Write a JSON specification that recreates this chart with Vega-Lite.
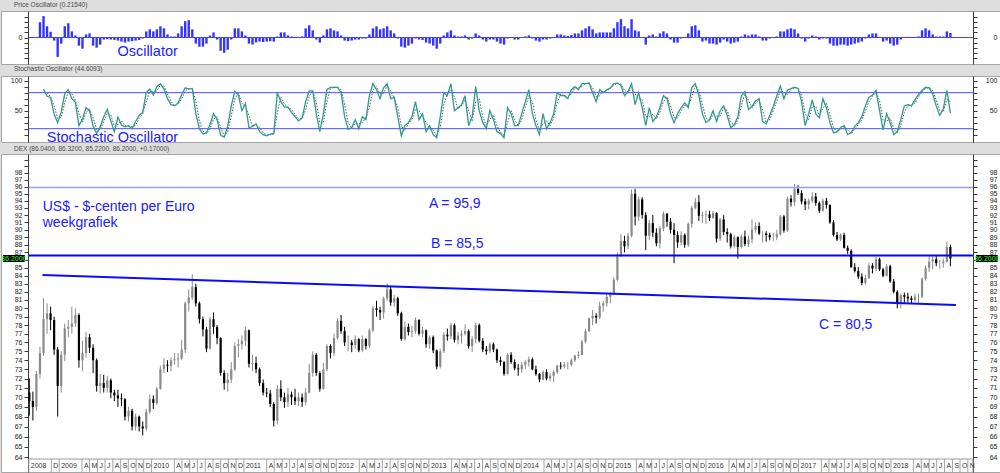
{
"$schema":"https://vega.github.io/schema/vega-lite/v6.json",
"background":"#dedede",
"padding":{"top":1,"bottom":0,"left":0,"right":0},
"spacing":12,
"bounds":"flush",
"config":{
 "view":{"fill":"#ffffff","stroke":"#a6a6a6"},
 "scale":{"continuousPadding":0},
 "axis":{"grid":false,"tickSize":4,"tickColor":"#3c3c3c","domainColor":"#3c3c3c","labelFont":"Liberation Sans","labelFontSize":7,"labelColor":"#222222","labelOverlap":false,"labelFlush":false,"labelPadding":2,"labelBound":false},
 "title":{"anchor":"start","dx":13,"fontSize":6.5,"font":"Liberation Sans","fontWeight":"normal","color":"#4a4a4a","baseline":"alphabetic","frame":"group"}
},
"datasets":{
"w":[
{"t":"2008-09-05","o":70.5,"h":72,"l":68.1,"c":69.6},
{"t":"2008-09-19","o":69.6,"h":70.6,"l":67.6,"c":69},
{"t":"2008-10-03","o":69,"h":72.8,"l":68.6,"c":72.5},
{"t":"2008-10-17","o":72.5,"h":75.5,"l":72,"c":74.8,"p":0.75},
{"t":"2008-10-31","o":74.8,"h":81.2,"l":74.5,"c":78.7,"p":1.05,"k":86},
{"t":"2008-11-14","o":78.7,"h":80.6,"l":77,"c":79.4,"p":0.55,"k":74,"d":80},
{"t":"2008-11-28","o":79.4,"h":80.2,"l":77.4,"c":78.6,"p":0.28,"k":72,"d":73},
{"t":"2008-12-12","o":78.6,"h":79,"l":74.6,"c":75.2,"p":-0.15,"k":44,"d":58},
{"t":"2008-12-26","o":75.2,"h":75.5,"l":68,"c":71.2,"p":-0.95,"k":30,"d":37},
{"t":"2009-01-09","o":71.2,"h":75,"l":70.5,"c":74.6,"p":-0.3,"k":48,"d":39},
{"t":"2009-01-23","o":74.6,"h":78.2,"l":73.9,"c":77.6,"p":0.55,"k":78,"d":63},
{"t":"2009-02-06","o":77.6,"h":78.6,"l":76.6,"c":77.8,"p":0.7,"k":85,"d":82},
{"t":"2009-02-20","o":77.8,"h":80.2,"l":77,"c":78.2,"p":0.3,"k":70,"d":78},
{"t":"2009-03-06","o":78.2,"h":80,"l":77.8,"c":79.2,"p":0.1,"k":64,"d":67},
{"t":"2009-03-20","o":79.2,"h":79.4,"l":73.2,"c":74,"p":-0.4,"k":25,"d":45},
{"t":"2009-04-03","o":74,"h":76.2,"l":72.8,"c":74.8,"p":-0.55,"k":36,"d":31},
{"t":"2009-04-17","o":74.8,"h":77.2,"l":74.3,"c":76.6,"p":0.15,"k":55,"d":46},
{"t":"2009-05-01","o":76.6,"h":77,"l":74.8,"c":75.4,"p":0.2,"k":50,"d":53},
{"t":"2009-05-15","o":75.4,"h":75.8,"l":72.6,"c":74,"p":-0.4,"k":25,"d":38},
{"t":"2009-05-29","o":74,"h":74.2,"l":70.6,"c":71.2,"p":-0.5,"k":12,"d":19},
{"t":"2009-06-12","o":71.2,"h":72.5,"l":70.4,"c":71.5,"p":-0.35,"k":23,"d":18},
{"t":"2009-06-26","o":71.5,"h":72.4,"l":70.5,"c":71,"p":-0.1,"k":40,"d":32},
{"t":"2009-07-10","o":71,"h":72.3,"l":70.5,"c":71.8,"p":-0.08,"k":52,"d":46},
{"t":"2009-07-24","o":71.8,"h":72,"l":69.9,"c":70.5,"p":-0.1,"k":33,"d":43},
{"t":"2009-08-07","o":70.5,"h":70.8,"l":69.6,"c":70.2,"p":-0.12,"k":15,"d":24},
{"t":"2009-08-21","o":70.2,"h":70.8,"l":69,"c":69.9,"p":-0.15,"k":39,"d":27},
{"t":"2009-09-04","o":69.9,"h":70.4,"l":69.1,"c":69.8,"p":-0.2,"k":26,"d":33},
{"t":"2009-09-18","o":69.8,"h":69.9,"l":67.6,"c":68,"p":-0.25,"k":23,"d":25},
{"t":"2009-10-02","o":68,"h":69,"l":67.5,"c":68.6,"p":-0.2,"k":25,"d":24},
{"t":"2009-10-16","o":68.6,"h":68.8,"l":66.6,"c":67,"p":-0.18,"k":20,"d":23},
{"t":"2009-10-30","o":67,"h":68.3,"l":66.6,"c":68,"p":-0.15,"k":32,"d":26},
{"t":"2009-11-13","o":68,"h":68.1,"l":66.5,"c":67,"p":-0.12,"k":42,"d":37},
{"t":"2009-11-27","o":67,"h":67.5,"l":66.1,"c":66.8,"p":-0.05,"k":47,"d":45},
{"t":"2009-12-11","o":66.8,"h":68.8,"l":66.6,"c":68.5,"p":0.3,"k":80,"d":64},
{"t":"2009-12-25","o":68.5,"h":70.3,"l":68.3,"c":69.8,"p":0.4,"k":86,"d":83},
{"t":"2010-01-08","o":69.8,"h":70.2,"l":68.8,"c":69.4,"p":0.3,"k":76,"d":81},
{"t":"2010-01-22","o":69.4,"h":71.1,"l":69.2,"c":70.9,"p":0.4,"k":90,"d":83},
{"t":"2010-02-05","o":70.9,"h":73.4,"l":70.8,"c":73,"p":0.55,"k":95,"d":93},
{"t":"2010-02-19","o":73,"h":74.2,"l":72.6,"c":73.5,"p":0.45,"k":86,"d":91},
{"t":"2010-03-05","o":73.5,"h":74,"l":72.7,"c":73.4,"p":0.15,"k":70,"d":78},
{"t":"2010-03-19","o":73.4,"h":74.3,"l":72.8,"c":74,"p":0.05,"k":60,"d":65},
{"t":"2010-04-02","o":74,"h":74.8,"l":73.5,"c":74.1,"p":0.05,"k":58,"d":59},
{"t":"2010-04-16","o":74.1,"h":74.8,"l":73.2,"c":74.2,"p":0.2,"k":63,"d":61},
{"t":"2010-04-30","o":74.2,"h":76.3,"l":74,"c":75.2,"p":0.55,"k":77,"d":70},
{"t":"2010-05-14","o":75.2,"h":80.8,"l":74.8,"c":80.6,"p":0.8,"k":88,"d":83},
{"t":"2010-05-28","o":80.6,"h":82.3,"l":79.6,"c":81.3,"p":0.85,"k":86,"d":87},
{"t":"2010-06-11","o":81.3,"h":84.2,"l":81,"c":82.6,"p":0.4,"k":87,"d":87},
{"t":"2010-06-25","o":82.6,"h":83,"l":80.2,"c":80.6,"p":-0.3,"k":45,"d":66},
{"t":"2010-07-09","o":80.6,"h":80.8,"l":78.2,"c":78.7,"p":-0.45,"k":20,"d":33},
{"t":"2010-07-23","o":78.7,"h":79,"l":76.7,"c":77.5,"p":-0.45,"k":11,"d":16},
{"t":"2010-08-06","o":77.5,"h":77.8,"l":74.9,"c":75.3,"p":-0.3,"k":13,"d":12},
{"t":"2010-08-20","o":75.3,"h":79,"l":75.2,"c":78.7,"p":0.1,"k":27,"d":20},
{"t":"2010-09-03","o":78.7,"h":79.5,"l":77,"c":77.8,"p":0.25,"k":45,"d":36},
{"t":"2010-09-17","o":77.8,"h":78,"l":75.8,"c":76.5,"p":-0.1,"k":35,"d":40},
{"t":"2010-10-01","o":76.5,"h":76.6,"l":72.3,"c":72.6,"p":-0.65,"k":9,"d":22},
{"t":"2010-10-15","o":72.6,"h":72.9,"l":70.8,"c":71.5,"p":-0.75,"k":6,"d":8},
{"t":"2010-10-29","o":71.5,"h":72.6,"l":70.6,"c":71.9,"p":-0.6,"k":24,"d":15},
{"t":"2010-11-12","o":71.9,"h":73.8,"l":71.5,"c":73,"p":-0.1,"k":58,"d":41},
{"t":"2010-11-26","o":73,"h":76,"l":72.8,"c":75.6,"p":0.45,"k":82,"d":70},
{"t":"2010-12-10","o":75.6,"h":76.4,"l":74.3,"c":75.8,"p":0.45,"k":76,"d":79},
{"t":"2010-12-24","o":75.8,"h":76.8,"l":75.2,"c":76.2,"p":0.3,"k":50,"d":63},
{"t":"2011-01-07","o":76.2,"h":77.8,"l":75.6,"c":77.4,"p":0.1,"k":62,"d":56},
{"t":"2011-01-21","o":77.4,"h":77.5,"l":73.2,"c":73.6,"p":-0.3,"k":21,"d":42},
{"t":"2011-02-04","o":73.6,"h":74.6,"l":72.8,"c":73.7,"p":-0.35,"k":24,"d":23},
{"t":"2011-02-18","o":73.7,"h":74.4,"l":72.6,"c":73,"p":-0.25,"k":28,"d":26},
{"t":"2011-03-04","o":73,"h":73.2,"l":71.2,"c":71.5,"p":-0.2,"k":15,"d":22},
{"t":"2011-03-18","o":71.5,"h":71.9,"l":70.2,"c":70.5,"p":-0.22,"k":10,"d":13},
{"t":"2011-04-01","o":70.5,"h":71,"l":70,"c":70.4,"p":-0.2,"k":8,"d":9},
{"t":"2011-04-15","o":70.4,"h":70.8,"l":69,"c":69.3,"p":-0.18,"k":11,"d":10},
{"t":"2011-04-29","o":69.3,"h":69.5,"l":67,"c":67.6,"p":-0.2,"k":12,"d":11},
{"t":"2011-05-13","o":67.6,"h":71.3,"l":67.2,"c":70.9,"p":0.05,"k":80,"d":46},
{"t":"2011-05-27","o":70.9,"h":71.8,"l":69.6,"c":70,"p":0.25,"k":65,"d":73},
{"t":"2011-06-10","o":70,"h":70.5,"l":68.9,"c":69.5,"p":0.25,"k":56,"d":61},
{"t":"2011-06-24","o":69.5,"h":71,"l":69,"c":70.3,"p":0.1,"k":56,"d":56},
{"t":"2011-07-08","o":70.3,"h":70.6,"l":69.2,"c":70,"p":0.05,"k":47,"d":52},
{"t":"2011-07-22","o":70,"h":70.9,"l":69.2,"c":69.6,"p":-0.03,"k":40,"d":44},
{"t":"2011-08-05","o":69.6,"h":70.5,"l":69.1,"c":70,"p":0.03,"k":33,"d":37},
{"t":"2011-08-19","o":70,"h":70.4,"l":69,"c":69.5,"p":0.05,"k":38,"d":36},
{"t":"2011-09-02","o":69.5,"h":71,"l":69.2,"c":70.5,"p":0.45,"k":65,"d":52},
{"t":"2011-09-16","o":70.5,"h":73.6,"l":70.4,"c":72.6,"p":0.6,"k":83,"d":74},
{"t":"2011-09-30","o":72.6,"h":75,"l":72.2,"c":74.6,"p":0.35,"k":83,"d":83},
{"t":"2011-10-14","o":74.6,"h":74.8,"l":72.3,"c":72.6,"p":-0.1,"k":45,"d":64},
{"t":"2011-10-28","o":72.6,"h":72.8,"l":70.6,"c":70.9,"p":-0.25,"k":15,"d":30},
{"t":"2011-11-11","o":70.9,"h":73.7,"l":70.8,"c":73,"p":0.1,"k":45,"d":30},
{"t":"2011-11-25","o":73,"h":75.8,"l":72.8,"c":75.6,"p":0.4,"k":85,"d":65},
{"t":"2011-12-09","o":75.6,"h":75.8,"l":74.2,"c":74.8,"p":0.45,"k":89,"d":87},
{"t":"2011-12-23","o":74.8,"h":77,"l":74.5,"c":76.5,"p":0.35,"k":89,"d":89},
{"t":"2012-01-06","o":76.5,"h":78.8,"l":76.3,"c":78.5,"p":0.3,"k":89,"d":89},
{"t":"2012-01-20","o":78.5,"h":79.2,"l":77,"c":77.3,"p":0.1,"k":80,"d":85},
{"t":"2012-02-03","o":77.3,"h":77.8,"l":75.6,"c":76,"p":-0.15,"k":40,"d":60},
{"t":"2012-02-17","o":76,"h":76.8,"l":75,"c":76,"p":-0.18,"k":19,"d":30},
{"t":"2012-03-02","o":76,"h":76.3,"l":74.9,"c":75.7,"p":-0.15,"k":22,"d":21},
{"t":"2012-03-16","o":75.7,"h":76.8,"l":75.3,"c":76.4,"p":-0.1,"k":35,"d":29},
{"t":"2012-03-30","o":76.4,"h":76.5,"l":74.9,"c":75.1,"p":-0.1,"k":20,"d":28},
{"t":"2012-04-13","o":75.1,"h":76.8,"l":74.9,"c":76.4,"p":-0.05,"k":40,"d":30},
{"t":"2012-04-27","o":76.4,"h":76.5,"l":75.2,"c":75.6,"p":-0.05,"k":35,"d":38},
{"t":"2012-05-11","o":75.6,"h":77.6,"l":75.4,"c":77.4,"p":0.15,"k":75,"d":55},
{"t":"2012-05-25","o":77.4,"h":80.3,"l":77.2,"c":80,"p":0.45,"k":95,"d":85},
{"t":"2012-06-08","o":80,"h":80.9,"l":79,"c":79.8,"p":0.55,"k":85,"d":90},
{"t":"2012-06-22","o":79.8,"h":80.2,"l":78.6,"c":79.5,"p":0.4,"k":70,"d":78},
{"t":"2012-07-06","o":79.5,"h":81.4,"l":78.8,"c":81.2,"p":0.45,"k":88,"d":79},
{"t":"2012-07-20","o":81.2,"h":83,"l":80.9,"c":82.3,"p":0.55,"k":95,"d":92},
{"t":"2012-08-03","o":82.3,"h":82.6,"l":80.3,"c":80.7,"p":0.35,"k":70,"d":83},
{"t":"2012-08-17","o":80.7,"h":81.6,"l":80.2,"c":81.2,"p":0.2,"k":72,"d":71},
{"t":"2012-08-31","o":81.2,"h":81.4,"l":79.1,"c":79.4,"p":-0.05,"k":40,"d":56},
{"t":"2012-09-14","o":79.4,"h":79.6,"l":76.2,"c":76.4,"p":-0.45,"k":8,"d":24},
{"t":"2012-09-28","o":76.4,"h":78.4,"l":76.2,"c":77.8,"p":-0.5,"k":25,"d":17},
{"t":"2012-10-12","o":77.8,"h":78.2,"l":76.8,"c":77.2,"p":-0.4,"k":30,"d":28},
{"t":"2012-10-26","o":77.2,"h":77.9,"l":76.6,"c":77.3,"p":-0.3,"k":40,"d":35},
{"t":"2012-11-09","o":77.3,"h":78.9,"l":77,"c":78.6,"p":-0.05,"k":65,"d":53},
{"t":"2012-11-23","o":78.6,"h":78.7,"l":76.8,"c":77,"p":-0.1,"k":35,"d":50},
{"t":"2012-12-07","o":77,"h":77.8,"l":76.6,"c":77.4,"p":-0.12,"k":45,"d":40},
{"t":"2012-12-21","o":77.4,"h":77.5,"l":75.4,"c":75.8,"p":-0.25,"k":15,"d":30},
{"t":"2013-01-04","o":75.8,"h":76.8,"l":75.3,"c":76.6,"p":-0.3,"k":25,"d":20},
{"t":"2013-01-18","o":76.6,"h":76.8,"l":74.8,"c":75.1,"p":-0.4,"k":10,"d":18},
{"t":"2013-02-01","o":75.1,"h":75.2,"l":73,"c":73.3,"p":-0.55,"k":5,"d":8},
{"t":"2013-02-15","o":73.3,"h":75.3,"l":73.1,"c":75,"p":-0.3,"k":40,"d":23},
{"t":"2013-03-01","o":75,"h":77.2,"l":74.8,"c":76.9,"p":0.1,"k":80,"d":60},
{"t":"2013-03-15","o":76.9,"h":77.6,"l":76.2,"c":76.7,"p":0.25,"k":75,"d":78},
{"t":"2013-03-29","o":76.7,"h":78.3,"l":76.4,"c":78,"p":0.35,"k":95,"d":85},
{"t":"2013-04-12","o":78,"h":78.2,"l":76,"c":76.3,"p":0.1,"k":50,"d":73},
{"t":"2013-04-26","o":76.3,"h":77.2,"l":75.8,"c":76.8,"p":0.05,"k":55,"d":53},
{"t":"2013-05-10","o":76.8,"h":77.4,"l":75.9,"c":77,"p":0.05,"k":60,"d":58},
{"t":"2013-05-24","o":77,"h":78.1,"l":76.8,"c":77.3,"p":0.1,"k":75,"d":68},
{"t":"2013-06-07","o":77.3,"h":77.5,"l":75.3,"c":75.6,"p":-0.1,"k":25,"d":50},
{"t":"2013-06-21","o":75.6,"h":76.7,"l":74.9,"c":76.4,"p":-0.05,"k":40,"d":33},
{"t":"2013-07-05","o":76.4,"h":78.3,"l":75.9,"c":78,"p":0.2,"k":90,"d":65},
{"t":"2013-07-19","o":78,"h":78.2,"l":76,"c":76.2,"p":0.1,"k":50,"d":70},
{"t":"2013-08-02","o":76.2,"h":76.5,"l":74.9,"c":75.2,"p":-0.1,"k":30,"d":40},
{"t":"2013-08-16","o":75.2,"h":75.6,"l":74.6,"c":75,"p":-0.2,"k":20,"d":25},
{"t":"2013-08-30","o":75,"h":76,"l":74.8,"c":75.8,"p":-0.1,"k":50,"d":35},
{"t":"2013-09-13","o":75.8,"h":76,"l":74.9,"c":75.2,"p":-0.1,"k":35,"d":43},
{"t":"2013-09-27","o":75.2,"h":75.3,"l":73.7,"c":74,"p":-0.2,"k":15,"d":25},
{"t":"2013-10-11","o":74,"h":74.4,"l":73.4,"c":73.8,"p":-0.3,"k":12,"d":14},
{"t":"2013-10-25","o":73.8,"h":73.9,"l":72.3,"c":72.5,"p":-0.35,"k":5,"d":9},
{"t":"2013-11-08","o":72.5,"h":74.8,"l":72.4,"c":74.6,"p":-0.05,"k":55,"d":30},
{"t":"2013-11-22","o":74.6,"h":74.9,"l":73.6,"c":73.8,"p":0.02,"k":45,"d":50},
{"t":"2013-12-06","o":73.8,"h":74.1,"l":72.9,"c":73.1,"p":-0.1,"k":25,"d":35},
{"t":"2013-12-20","o":73.1,"h":73.6,"l":72.3,"c":73,"p":-0.1,"k":25,"d":25},
{"t":"2014-01-03","o":73,"h":73.8,"l":72.6,"c":73.5,"p":0.02,"k":45,"d":35},
{"t":"2014-01-17","o":73.5,"h":74,"l":73,"c":73.8,"p":0.05,"k":65,"d":55},
{"t":"2014-01-31","o":73.8,"h":74.4,"l":73.3,"c":74.1,"p":0.1,"k":85,"d":75},
{"t":"2014-02-14","o":74.1,"h":74.3,"l":72.9,"c":73,"p":-0.05,"k":45,"d":65},
{"t":"2014-02-28","o":73,"h":73.4,"l":72.3,"c":72.5,"p":-0.15,"k":25,"d":35},
{"t":"2014-03-14","o":72.5,"h":72.6,"l":71.6,"c":71.9,"p":-0.2,"k":10,"d":18},
{"t":"2014-03-28","o":71.9,"h":72.9,"l":71.8,"c":72.7,"p":-0.1,"k":45,"d":28},
{"t":"2014-04-11","o":72.7,"h":73,"l":71.8,"c":72,"p":-0.1,"k":20,"d":33},
{"t":"2014-04-25","o":72,"h":72.6,"l":71.7,"c":72.3,"p":-0.05,"k":30,"d":25},
{"t":"2014-05-09","o":72.3,"h":72.9,"l":71.6,"c":72.7,"p":0.02,"k":45,"d":38},
{"t":"2014-05-23","o":72.7,"h":73.5,"l":72.5,"c":73.4,"p":0.15,"k":80,"d":63},
{"t":"2014-06-06","o":73.4,"h":73.8,"l":73,"c":73.3,"p":0.15,"k":75,"d":78},
{"t":"2014-06-20","o":73.3,"h":73.8,"l":73.1,"c":73.5,"p":0.1,"k":75,"d":75},
{"t":"2014-07-04","o":73.5,"h":73.8,"l":73,"c":73.5,"p":0.08,"k":70,"d":73},
{"t":"2014-07-18","o":73.5,"h":74.2,"l":73.3,"c":74,"p":0.12,"k":85,"d":78},
{"t":"2014-08-01","o":74,"h":74.6,"l":73.8,"c":74.5,"p":0.2,"k":90,"d":88},
{"t":"2014-08-15","o":74.5,"h":75,"l":74.2,"c":74.6,"p":0.2,"k":85,"d":88},
{"t":"2014-08-29","o":74.6,"h":76.3,"l":74.6,"c":76.1,"p":0.35,"k":95,"d":90},
{"t":"2014-09-12","o":76.1,"h":77.6,"l":75.9,"c":77.3,"p":0.45,"k":95,"d":95},
{"t":"2014-09-26","o":77.3,"h":78.9,"l":77.2,"c":78.8,"p":0.55,"k":96,"d":96},
{"t":"2014-10-10","o":78.8,"h":79.8,"l":78,"c":79.1,"p":0.4,"k":80,"d":88},
{"t":"2014-10-24","o":79.1,"h":79.4,"l":78.2,"c":78.9,"p":0.2,"k":65,"d":73},
{"t":"2014-11-07","o":78.9,"h":80.8,"l":78.7,"c":80.3,"p":0.25,"k":85,"d":75},
{"t":"2014-11-21","o":80.3,"h":80.9,"l":79.6,"c":80.6,"p":0.25,"k":80,"d":83},
{"t":"2014-12-05","o":80.6,"h":81.7,"l":80.2,"c":81.4,"p":0.25,"k":85,"d":83},
{"t":"2014-12-19","o":81.4,"h":82,"l":80.6,"c":81.8,"p":0.25,"k":88,"d":87},
{"t":"2015-01-02","o":81.8,"h":83.8,"l":81.6,"c":83.5,"p":0.45,"k":95,"d":92},
{"t":"2015-01-16","o":83.5,"h":87,"l":83.3,"c":86.5,"p":0.75,"k":96,"d":96},
{"t":"2015-01-30","o":86.5,"h":89.4,"l":86.4,"c":88.5,"p":0.9,"k":92,"d":94},
{"t":"2015-02-13","o":88.5,"h":89.2,"l":87,"c":87.8,"p":0.55,"k":75,"d":84},
{"t":"2015-02-27","o":87.8,"h":89.6,"l":87.4,"c":89.2,"p":0.45,"k":82,"d":79},
{"t":"2015-03-13","o":89.2,"h":95.6,"l":89,"c":95,"p":0.9,"k":95,"d":89},
{"t":"2015-03-27","o":95,"h":95.7,"l":90.6,"c":91.8,"p":0.35,"k":60,"d":78},
{"t":"2015-04-10","o":91.8,"h":94.6,"l":91.2,"c":94.2,"p":0.3,"k":80,"d":70},
{"t":"2015-04-24","o":94.2,"h":94.5,"l":91.5,"c":92,"p":0,"k":55,"d":68},
{"t":"2015-05-08","o":92,"h":92.4,"l":87.3,"c":89.2,"p":-0.35,"k":25,"d":40},
{"t":"2015-05-22","o":89.2,"h":91.3,"l":88.6,"c":90.9,"p":0.1,"k":55,"d":40},
{"t":"2015-06-05","o":90.9,"h":92,"l":89,"c":89.6,"p":0.15,"k":32,"d":44},
{"t":"2015-06-19","o":89.6,"h":90.2,"l":87.8,"c":88.2,"p":0.05,"k":40,"d":36},
{"t":"2015-07-03","o":88.2,"h":90.5,"l":87.5,"c":90.2,"p":0.2,"k":55,"d":48},
{"t":"2015-07-17","o":90.2,"h":92.5,"l":89.8,"c":92.2,"p":0.3,"k":75,"d":65},
{"t":"2015-07-31","o":92.2,"h":92.3,"l":90.4,"c":91.1,"p":0.2,"k":70,"d":73},
{"t":"2015-08-14","o":91.1,"h":91.6,"l":89.5,"c":90,"p":-0.1,"k":45,"d":58},
{"t":"2015-08-28","o":90,"h":90.9,"l":85.6,"c":89.3,"p":-0.25,"k":30,"d":38},
{"t":"2015-09-11","o":89.3,"h":89.8,"l":87.6,"c":88.3,"p":-0.25,"k":45,"d":38},
{"t":"2015-09-25","o":88.3,"h":89.8,"l":87.9,"c":89.3,"p":-0.05,"k":55,"d":50},
{"t":"2015-10-09","o":89.3,"h":89.5,"l":87.6,"c":88,"p":0.02,"k":63,"d":59},
{"t":"2015-10-23","o":88,"h":91,"l":87.7,"c":90.8,"p":0.2,"k":55,"d":59},
{"t":"2015-11-06","o":90.8,"h":93.3,"l":90.3,"c":93,"p":0.55,"k":89,"d":72},
{"t":"2015-11-20","o":93,"h":94.4,"l":92.8,"c":93.8,"p":0.6,"k":95,"d":92},
{"t":"2015-12-04","o":93.8,"h":94.8,"l":91.2,"c":91.9,"p":0.35,"k":75,"d":85},
{"t":"2015-12-18","o":91.9,"h":92.5,"l":90.9,"c":92,"p":-0.2,"k":45,"d":60},
{"t":"2016-01-01","o":92,"h":92.6,"l":90.8,"c":92.1,"p":-0.15,"k":30,"d":38},
{"t":"2016-01-15","o":92.1,"h":92.6,"l":91.2,"c":91.6,"p":-0.3,"k":35,"d":33},
{"t":"2016-01-29","o":91.6,"h":92.6,"l":91.5,"c":92.3,"p":-0.3,"k":50,"d":43},
{"t":"2016-02-12","o":92.3,"h":92.4,"l":88.3,"c":88.8,"p":-0.35,"k":32,"d":41},
{"t":"2016-02-26","o":88.8,"h":91.6,"l":88.5,"c":91.4,"p":-0.25,"k":50,"d":41},
{"t":"2016-03-11","o":91.4,"h":92,"l":89.3,"c":89.7,"p":-0.1,"k":58,"d":54},
{"t":"2016-03-25","o":89.7,"h":90.2,"l":88.3,"c":89.4,"p":-0.2,"k":42,"d":50},
{"t":"2016-04-08","o":89.4,"h":89.6,"l":87.5,"c":87.8,"p":-0.3,"k":21,"d":32},
{"t":"2016-04-22","o":87.8,"h":89.3,"l":87.6,"c":89,"p":-0.25,"k":27,"d":24},
{"t":"2016-05-06","o":89,"h":89.1,"l":86.2,"c":87.7,"p":-0.2,"k":40,"d":34},
{"t":"2016-05-20","o":87.7,"h":89.4,"l":87.5,"c":89.1,"p":0.05,"k":75,"d":58},
{"t":"2016-06-03","o":89.1,"h":89.9,"l":87.8,"c":88.1,"p":0.15,"k":82,"d":79},
{"t":"2016-06-17","o":88.1,"h":89.2,"l":87.7,"c":88.7,"p":0.1,"k":52,"d":67},
{"t":"2016-07-01","o":88.7,"h":91.4,"l":88.2,"c":90,"p":0.15,"k":57,"d":55},
{"t":"2016-07-15","o":90,"h":91,"l":89.6,"c":90.5,"p":0.15,"k":66,"d":62},
{"t":"2016-07-29","o":90.5,"h":91,"l":89.3,"c":89.5,"p":0.05,"k":70,"d":68},
{"t":"2016-08-12","o":89.5,"h":89.8,"l":88.3,"c":89.5,"p":-0.15,"k":32,"d":51},
{"t":"2016-08-26","o":89.5,"h":89.8,"l":88.4,"c":89.3,"p":-0.15,"k":28,"d":30},
{"t":"2016-09-09","o":89.3,"h":89.6,"l":88.6,"c":89,"p":-0.05,"k":42,"d":35},
{"t":"2016-09-23","o":89,"h":89.6,"l":88.5,"c":89,"p":0.02,"k":57,"d":50},
{"t":"2016-10-07","o":89,"h":90,"l":88.6,"c":89.4,"p":0.05,"k":75,"d":66},
{"t":"2016-10-21","o":89.4,"h":92,"l":89.2,"c":91.8,"p":0.3,"k":91,"d":83},
{"t":"2016-11-04","o":91.8,"h":92,"l":89.6,"c":89.9,"p":0.3,"k":70,"d":81},
{"t":"2016-11-18","o":89.9,"h":94.6,"l":89.7,"c":94.3,"p":0.4,"k":84,"d":77},
{"t":"2016-12-02","o":94.3,"h":94.8,"l":93.2,"c":93.8,"p":0.45,"k":87,"d":86},
{"t":"2016-12-16","o":93.8,"h":96.4,"l":93.3,"c":95.7,"p":0.4,"k":89,"d":88},
{"t":"2016-12-30","o":95.7,"h":96.2,"l":94.8,"c":95.1,"p":0.2,"k":87,"d":88},
{"t":"2017-01-13","o":95.1,"h":95.5,"l":93.5,"c":93.9,"p":-0.05,"k":65,"d":76},
{"t":"2017-01-27","o":93.9,"h":94.3,"l":92.7,"c":93.5,"p":-0.2,"k":25,"d":45},
{"t":"2017-02-10","o":93.5,"h":94.3,"l":92.8,"c":94,"p":-0.05,"k":45,"d":35},
{"t":"2017-02-24","o":94,"h":95.2,"l":93.7,"c":94.6,"p":0.1,"k":68,"d":57},
{"t":"2017-03-10","o":94.6,"h":95.1,"l":93.3,"c":93.7,"p":0.05,"k":45,"d":57},
{"t":"2017-03-24","o":93.7,"h":93.9,"l":92.3,"c":92.6,"p":-0.1,"k":38,"d":42},
{"t":"2017-04-07","o":92.6,"h":94.3,"l":92.5,"c":94,"p":-0.05,"k":70,"d":54},
{"t":"2017-04-21","o":94,"h":94.4,"l":92.9,"c":93.4,"p":-0.05,"k":55,"d":63},
{"t":"2017-05-05","o":93.4,"h":93.5,"l":90.8,"c":91,"p":-0.3,"k":30,"d":43},
{"t":"2017-05-19","o":91,"h":91.3,"l":89.1,"c":89.3,"p":-0.4,"k":13,"d":22},
{"t":"2017-06-02","o":89.3,"h":89.7,"l":88.5,"c":88.7,"p":-0.4,"k":15,"d":14},
{"t":"2017-06-16","o":88.7,"h":89.5,"l":88.5,"c":89.3,"p":-0.35,"k":22,"d":19},
{"t":"2017-06-30","o":89.3,"h":89.6,"l":87.5,"c":87.6,"p":-0.35,"k":25,"d":24},
{"t":"2017-07-14","o":87.6,"h":87.9,"l":86.8,"c":87.2,"p":-0.4,"k":10,"d":18},
{"t":"2017-07-28","o":87.2,"h":87.4,"l":85,"c":85.1,"p":-0.35,"k":13,"d":12},
{"t":"2017-08-11","o":85.1,"h":85.6,"l":84.4,"c":84.6,"p":-0.3,"k":24,"d":19},
{"t":"2017-08-25","o":84.6,"h":85.1,"l":83.6,"c":83.9,"p":-0.25,"k":30,"d":27},
{"t":"2017-09-08","o":83.9,"h":84.3,"l":82.8,"c":83.1,"p":-0.2,"k":40,"d":35},
{"t":"2017-09-22","o":83.1,"h":84.1,"l":82.9,"c":83.7,"p":-0.05,"k":58,"d":49},
{"t":"2017-10-06","o":83.7,"h":85.6,"l":83.6,"c":85.3,"p":0.15,"k":72,"d":65},
{"t":"2017-10-20","o":85.3,"h":85.6,"l":84.3,"c":84.9,"p":0.2,"k":76,"d":74},
{"t":"2017-11-03","o":84.9,"h":86.4,"l":84.6,"c":86.1,"p":0.2,"k":84,"d":80},
{"t":"2017-11-17","o":86.1,"h":86.3,"l":84.6,"c":84.8,"p":0,"k":50,"d":67},
{"t":"2017-12-01","o":84.8,"h":85,"l":83.8,"c":84,"p":-0.2,"k":18,"d":34},
{"t":"2017-12-15","o":84,"h":85.5,"l":83.9,"c":85.2,"p":-0.15,"k":45,"d":32},
{"t":"2017-12-29","o":85.2,"h":85.4,"l":83.1,"c":83.3,"p":-0.3,"k":30,"d":38},
{"t":"2018-01-12","o":83.3,"h":83.6,"l":81.8,"c":82,"p":-0.4,"k":10,"d":20},
{"t":"2018-01-26","o":82,"h":82.2,"l":80,"c":80.5,"p":-0.35,"k":15,"d":13},
{"t":"2018-02-09","o":80.5,"h":81.8,"l":80,"c":81.6,"p":-0.1,"k":35,"d":25},
{"t":"2018-02-23","o":81.6,"h":81.9,"l":80.6,"c":81.4,"p":-0.03,"k":58,"d":47},
{"t":"2018-03-09","o":81.4,"h":81.9,"l":80.7,"c":81.2,"p":0.03,"k":60,"d":59},
{"t":"2018-03-23","o":81.2,"h":81.5,"l":80.6,"c":81,"p":-0.02,"k":58,"d":59},
{"t":"2018-04-06","o":81,"h":81.8,"l":80.8,"c":81.4,"p":0.03,"k":68,"d":63},
{"t":"2018-04-20","o":81.4,"h":81.8,"l":80.5,"c":81.4,"p":0.05,"k":77,"d":73},
{"t":"2018-05-04","o":81.4,"h":83.8,"l":81.2,"c":83.6,"p":0.35,"k":84,"d":81},
{"t":"2018-05-18","o":83.6,"h":85.3,"l":83.4,"c":85,"p":0.45,"k":89,"d":87},
{"t":"2018-06-01","o":85,"h":86.6,"l":84.5,"c":85.8,"p":0.35,"k":88,"d":89},
{"t":"2018-06-15","o":85.8,"h":86.5,"l":84.8,"c":86.1,"p":0.15,"k":78,"d":83},
{"t":"2018-06-29","o":86.1,"h":86.6,"l":85.2,"c":85.6,"p":0.05,"k":58,"d":68},
{"t":"2018-07-13","o":85.6,"h":86,"l":84.9,"c":85.6,"p":0.05,"k":42,"d":50},
{"t":"2018-07-27","o":85.6,"h":86.2,"l":85,"c":85.8,"p":0.05,"k":53,"d":48},
{"t":"2018-08-10","o":85.8,"h":88.4,"l":85.7,"c":87.7,"p":0.3,"k":84,"d":69},
{"t":"2018-08-24","o":87.7,"h":88,"l":85.2,"c":86.2,"p":0.22,"k":46,"d":65}
],
"months":[
{"m":"2008-09-03","lab":"2008"},{"m":"2008-12-01","lab":"D"},
{"m":"2009-01-01","lab":"2009"},{"m":"2009-04-01","lab":"A"},{"m":"2009-05-01","lab":"M"},{"m":"2009-06-01","lab":"J"},{"m":"2009-07-01","lab":"J"},{"m":"2009-08-01","lab":"A"},{"m":"2009-09-01","lab":"S"},{"m":"2009-10-01","lab":"O"},{"m":"2009-11-01","lab":"N"},{"m":"2009-12-01","lab":"D"},
{"m":"2010-01-01","lab":"2010"},{"m":"2010-04-01","lab":"A"},{"m":"2010-05-01","lab":"M"},{"m":"2010-06-01","lab":"J"},{"m":"2010-07-01","lab":"J"},{"m":"2010-08-01","lab":"A"},{"m":"2010-09-01","lab":"S"},{"m":"2010-10-01","lab":"O"},{"m":"2010-11-01","lab":"N"},{"m":"2010-12-01","lab":"D"},
{"m":"2011-01-01","lab":"2011"},{"m":"2011-04-01","lab":"A"},{"m":"2011-05-01","lab":"M"},{"m":"2011-06-01","lab":"J"},{"m":"2011-07-01","lab":"J"},{"m":"2011-08-01","lab":"A"},{"m":"2011-09-01","lab":"S"},{"m":"2011-10-01","lab":"O"},{"m":"2011-11-01","lab":"N"},{"m":"2011-12-01","lab":"D"},
{"m":"2012-01-01","lab":"2012"},{"m":"2012-04-01","lab":"A"},{"m":"2012-05-01","lab":"M"},{"m":"2012-06-01","lab":"J"},{"m":"2012-07-01","lab":"J"},{"m":"2012-08-01","lab":"A"},{"m":"2012-09-01","lab":"S"},{"m":"2012-10-01","lab":"O"},{"m":"2012-11-01","lab":"N"},{"m":"2012-12-01","lab":"D"},
{"m":"2013-01-01","lab":"2013"},{"m":"2013-04-01","lab":"A"},{"m":"2013-05-01","lab":"M"},{"m":"2013-06-01","lab":"J"},{"m":"2013-07-01","lab":"J"},{"m":"2013-08-01","lab":"A"},{"m":"2013-09-01","lab":"S"},{"m":"2013-10-01","lab":"O"},{"m":"2013-11-01","lab":"N"},{"m":"2013-12-01","lab":"D"},
{"m":"2014-01-01","lab":"2014"},{"m":"2014-04-01","lab":"A"},{"m":"2014-05-01","lab":"M"},{"m":"2014-06-01","lab":"J"},{"m":"2014-07-01","lab":"J"},{"m":"2014-08-01","lab":"A"},{"m":"2014-09-01","lab":"S"},{"m":"2014-10-01","lab":"O"},{"m":"2014-11-01","lab":"N"},{"m":"2014-12-01","lab":"D"},
{"m":"2015-01-01","lab":"2015"},{"m":"2015-04-01","lab":"A"},{"m":"2015-05-01","lab":"M"},{"m":"2015-06-01","lab":"J"},{"m":"2015-07-01","lab":"J"},{"m":"2015-08-01","lab":"A"},{"m":"2015-09-01","lab":"S"},{"m":"2015-10-01","lab":"O"},{"m":"2015-11-01","lab":"N"},{"m":"2015-12-01","lab":"D"},
{"m":"2016-01-01","lab":"2016"},{"m":"2016-04-01","lab":"A"},{"m":"2016-05-01","lab":"M"},{"m":"2016-06-01","lab":"J"},{"m":"2016-07-01","lab":"J"},{"m":"2016-08-01","lab":"A"},{"m":"2016-09-01","lab":"S"},{"m":"2016-10-01","lab":"O"},{"m":"2016-11-01","lab":"N"},{"m":"2016-12-01","lab":"D"},
{"m":"2017-01-01","lab":"2017"},{"m":"2017-04-01","lab":"A"},{"m":"2017-05-01","lab":"M"},{"m":"2017-06-01","lab":"J"},{"m":"2017-07-01","lab":"J"},{"m":"2017-08-01","lab":"A"},{"m":"2017-09-01","lab":"S"},{"m":"2017-10-01","lab":"O"},{"m":"2017-11-01","lab":"N"},{"m":"2017-12-01","lab":"D"},
{"m":"2018-01-01","lab":"2018"},{"m":"2018-04-01","lab":"A"},{"m":"2018-05-01","lab":"M"},{"m":"2018-06-01","lab":"J"},{"m":"2018-07-01","lab":"J"},{"m":"2018-08-01","lab":"A"},{"m":"2018-09-01","lab":"S"},{"m":"2018-10-01","lab":"O"},{"m":"2018-11-01","lab":"N"},{"m":"2018-11-21","lab":""}
],
"span":[{"s":"2008-09-03","e":"2018-11-21"}],
"levels":[{"s":"2008-09-03","e":"2018-11-21","v":95.9,"n":"A"},{"s":"2008-09-03","e":"2018-11-21","v":86.6,"n":"B"}],
"trend":[{"t":"2008-10-27","v":84.1},{"t":"2018-09-15","v":80.4}],
"notes":[
{"t":"2008-10-28","v":92.61,"txt":"US$ - $-centen per Euro"},
{"t":"2008-10-28","v":90.34,"txt":"weekgrafiek"},
{"t":"2013-01-01","v":92.99,"txt":"A = 95,9"},
{"t":"2013-01-09","v":87.57,"txt":"B = 85,5"},
{"t":"2017-03-23","v":77.5,"txt":"C = 80,5"}
],
"tags":[
{"s":"2008-05-24","e":"2008-08-18","m":"2008-07-06","lo":85.74,"hi":86.66,"v":86.2,"txt":"86.2000"},
{"s":"2018-12-03","e":"2019-02-27","m":"2019-01-15","lo":85.74,"hi":86.66,"v":86.2,"txt":"86.2000"}
],
"zero":[{"s":"2008-09-03","e":"2018-11-21","v":0}],
"bands":[{"s":"2008-09-03","e":"2018-11-21","v":80},{"s":"2008-09-03","e":"2018-11-21","v":20}],
"oscnote":[{"t":"2009-08-19","v":-0.92,"txt":"Oscillator"}],
"stnote":[{"t":"2008-11-13","v":-2.7,"txt":"Stochastic Oscillator"}]
},
"vconcat":[
{
 "width":1000,"height":53,
 "title":{"text":"Price Oscillator (0.21540)","offset":3},
 "layer":[
  {"data":{"name":"w"},"mark":{"type":"bar","color":"#3434ff","width":2.4},
   "encoding":{
    "x":{"field":"t","type":"temporal","scale":{"domain":[{"year":2008,"month":5,"date":16},{"year":2019,"month":3,"date":12}]},"axis":null},
    "y":{"field":"p","type":"quantitative","scale":{"domain":[-1.3,1.3],"nice":false},
     "axis":{"orient":"left","offset":-27,"title":null,"values":[-1,-0.75,-0.5,-0.25,0,0.25,0.5,0.75,1],"labelExpr":"datum.value==0 ? '0' : ''"}}}},
  {"data":{"name":"zero"},"mark":{"type":"rule","color":"#4444ff","strokeWidth":1},
   "encoding":{
    "x":{"field":"s","type":"temporal","scale":{"domain":[{"year":2008,"month":5,"date":16},{"year":2019,"month":3,"date":12}]},"axis":null},
    "x2":{"field":"e"},
    "y":{"field":"v","type":"quantitative","scale":{"domain":[-1.3,1.3],"nice":false},
     "axis":{"orient":"right","offset":-28,"title":null,"values":[-1,-0.75,-0.5,-0.25,0,0.25,0.5,0.75,1],"labelExpr":"datum.value==0 ? '0' : ''","labelAlign":"right","labelPadding":20}}}},
  {"data":{"name":"oscnote"},"mark":{"type":"text","align":"left","baseline":"alphabetic","fontSize":14.5,"font":"Liberation Sans","color":"#2020ff"},
   "encoding":{
    "x":{"field":"t","type":"temporal","scale":{"domain":[{"year":2008,"month":5,"date":16},{"year":2019,"month":3,"date":12}]},"axis":null},
    "y":{"field":"v","type":"quantitative","scale":{"domain":[-1.3,1.3],"nice":false},"axis":null},
    "text":{"field":"txt"}}}
 ],
 "resolve":{"axis":{"y":"independent"}}
},
{
 "width":1000,"height":66,
 "title":{"text":"Stochastic Oscillator (44.6093)","offset":4},
 "layer":[
  {"data":{"name":"bands"},"mark":{"type":"rule","color":"#4b4bff","strokeWidth":1},
   "encoding":{
    "x":{"field":"s","type":"temporal","scale":{"domain":[{"year":2008,"month":5,"date":16},{"year":2019,"month":3,"date":12}]},"axis":null},
    "x2":{"field":"e"},
    "y":{"field":"v","type":"quantitative","scale":{"domain":[-2.2,107.8],"nice":false,"zero":false},
     "axis":{"orient":"right","offset":-28,"title":null,"values":[10,20,30,40,50,60,70,80,90,100],"labelExpr":"datum.value==100 || datum.value==50 ? datum.label : ''","labelAlign":"right","labelPadding":20}}}},
  {"data":{"name":"w"},"mark":{"type":"line","color":"#555555","strokeWidth":1,"strokeDash":[1.5,1.5]},
   "encoding":{
    "x":{"field":"t","type":"temporal","scale":{"domain":[{"year":2008,"month":5,"date":16},{"year":2019,"month":3,"date":12}]},"axis":null},
    "y":{"field":"d","type":"quantitative","scale":{"domain":[-2.2,107.8],"nice":false,"zero":false},"axis":null}}},
  {"data":{"name":"w"},"mark":{"type":"line","color":"#2e9a92","strokeWidth":1.3},
   "encoding":{
    "x":{"field":"t","type":"temporal","scale":{"domain":[{"year":2008,"month":5,"date":16},{"year":2019,"month":3,"date":12}]},"axis":null},
    "y":{"field":"k","type":"quantitative","scale":{"domain":[-2.2,107.8],"nice":false,"zero":false},
     "axis":{"orient":"left","offset":-27,"title":null,"values":[10,20,30,40,50,60,70,80,90,100],"labelExpr":"datum.value==100 || datum.value==50 ? datum.label : ''"}}}},
  {"data":{"name":"stnote"},"mark":{"type":"text","align":"left","baseline":"alphabetic","fontSize":14.5,"font":"Liberation Sans","color":"#2020ff"},
   "encoding":{
    "x":{"field":"t","type":"temporal","scale":{"domain":[{"year":2008,"month":5,"date":16},{"year":2019,"month":3,"date":12}]},"axis":null},
    "y":{"field":"v","type":"quantitative","scale":{"domain":[-2.2,107.8],"nice":false,"zero":false},"axis":null},
    "text":{"field":"txt"}}}
 ],
 "resolve":{"axis":{"y":"independent"}}
},
{
 "width":1000,"height":318,
 "title":{"text":"DEX (86.0400, 86.3200, 85.2200, 86.2000, +0.17000)","offset":2},
 "layer":[
  {"data":{"name":"w"},"mark":{"type":"rule","strokeWidth":1},
   "encoding":{
    "x":{"field":"t","type":"temporal","scale":{"domain":[{"year":2008,"month":5,"date":16},{"year":2019,"month":3,"date":12}]},"axis":null},
    "y":{"field":"l","type":"quantitative","scale":{"type":"log","domain":[62.58,100.83],"nice":false},
     "axis":{"orient":"left","offset":-27,"title":null,"values":[64,65,66,67,68,69,70,71,72,73,74,75,76,77,78,79,80,81,82,83,84,85,86,87,88,89,90,91,92,93,94,95,96,97,98,99,100],"labelExpr":"datum.value > 98 || datum.value == 86 ? '' : datum.label"}},
    "y2":{"field":"h"},
    "color":{"condition":{"test":"datum.c >= datum.o","value":"#8a8a8a"},"value":"#000000"}}},
  {"data":{"name":"w"},"mark":{"type":"bar","width":2.2},
   "encoding":{
    "x":{"field":"t","type":"temporal","scale":{"domain":[{"year":2008,"month":5,"date":16},{"year":2019,"month":3,"date":12}]},"axis":null},
    "y":{"field":"o","type":"quantitative","scale":{"type":"log","domain":[62.58,100.83],"nice":false},
     "axis":{"orient":"right","offset":-28,"title":null,"values":[64,65,66,67,68,69,70,71,72,73,74,75,76,77,78,79,80,81,82,83,84,85,86,87,88,89,90,91,92,93,94,95,96,97,98,99,100],"labelExpr":"datum.value > 98 || datum.value == 86 ? '' : datum.label","labelAlign":"right","labelPadding":20}},
    "y2":{"field":"c"},
    "color":{"condition":{"test":"datum.c >= datum.o","value":"#8a8a8a"},"value":"#000000"}}},
  {"data":{"name":"span"},"mark":{"type":"rule","color":"#9a9a9a","strokeWidth":1},
   "encoding":{
    "x":{"field":"s","type":"temporal","scale":{"domain":[{"year":2008,"month":5,"date":16},{"year":2019,"month":3,"date":12}]},"axis":null},
    "x2":{"field":"e"},
    "y":{"datum":63.81,"type":"quantitative","scale":{"type":"log","domain":[62.58,100.83],"nice":false},"axis":null}}},
  {"data":{"name":"months"},"mark":{"type":"rule","color":"#a4a4a4","strokeWidth":1},
   "encoding":{
    "x":{"field":"m","type":"temporal","scale":{"domain":[{"year":2008,"month":5,"date":16},{"year":2019,"month":3,"date":12}]},"axis":null},
    "y":{"datum":62.58,"type":"quantitative","scale":{"type":"log","domain":[62.58,100.83],"nice":false},"axis":null},
    "y2":{"datum":63.81}}},
  {"data":{"name":"months"},"mark":{"type":"text","align":"left","baseline":"middle","dx":2,"fontSize":7,"font":"Liberation Sans","color":"#333333"},
   "encoding":{
    "x":{"field":"m","type":"temporal","scale":{"domain":[{"year":2008,"month":5,"date":16},{"year":2019,"month":3,"date":12}]},"axis":null},
    "y":{"datum":63.15,"type":"quantitative","scale":{"type":"log","domain":[62.58,100.83],"nice":false},"axis":null},
    "text":{"field":"lab"}}},
  {"data":{"name":"levels"},"mark":{"type":"rule"},
   "encoding":{
    "x":{"field":"s","type":"temporal","scale":{"domain":[{"year":2008,"month":5,"date":16},{"year":2019,"month":3,"date":12}]},"axis":null},
    "x2":{"field":"e"},
    "y":{"field":"v","type":"quantitative","scale":{"type":"log","domain":[62.58,100.83],"nice":false},"axis":null},
    "color":{"condition":{"test":"datum.n == 'A'","value":"#9c9cff"},"value":"#0000ff"},
    "strokeWidth":{"condition":{"test":"datum.n == 'A'","value":1.5},"value":2}}},
  {"data":{"name":"trend"},"mark":{"type":"line","color":"#0a0aff","strokeWidth":2},
   "encoding":{
    "x":{"field":"t","type":"temporal","scale":{"domain":[{"year":2008,"month":5,"date":16},{"year":2019,"month":3,"date":12}]},"axis":null},
    "y":{"field":"v","type":"quantitative","scale":{"type":"log","domain":[62.58,100.83],"nice":false},"axis":null}}},
  {"data":{"name":"notes"},"mark":{"type":"text","align":"left","baseline":"alphabetic","fontSize":14,"font":"Liberation Sans","color":"#2020ff"},
   "encoding":{
    "x":{"field":"t","type":"temporal","scale":{"domain":[{"year":2008,"month":5,"date":16},{"year":2019,"month":3,"date":12}]},"axis":null},
    "y":{"field":"v","type":"quantitative","scale":{"type":"log","domain":[62.58,100.83],"nice":false},"axis":null},
    "text":{"field":"txt"}}},
  {"data":{"name":"tags"},"mark":{"type":"rect","color":"#000000"},
   "encoding":{
    "x":{"field":"s","type":"temporal","scale":{"domain":[{"year":2008,"month":5,"date":16},{"year":2019,"month":3,"date":12}]},"axis":null},
    "x2":{"field":"e"},
    "y":{"field":"lo","type":"quantitative","scale":{"type":"log","domain":[62.58,100.83],"nice":false},"axis":null},
    "y2":{"field":"hi"}}},
  {"data":{"name":"tags"},"mark":{"type":"text","color":"#33ff33","fontSize":7,"font":"Liberation Sans","baseline":"middle","align":"center"},
   "encoding":{
    "x":{"field":"m","type":"temporal","scale":{"domain":[{"year":2008,"month":5,"date":16},{"year":2019,"month":3,"date":12}]},"axis":null},
    "y":{"field":"v","type":"quantitative","scale":{"type":"log","domain":[62.58,100.83],"nice":false},"axis":null},
    "text":{"field":"txt"}}}
 ],
 "resolve":{"axis":{"y":"independent"}}
}
]
}
